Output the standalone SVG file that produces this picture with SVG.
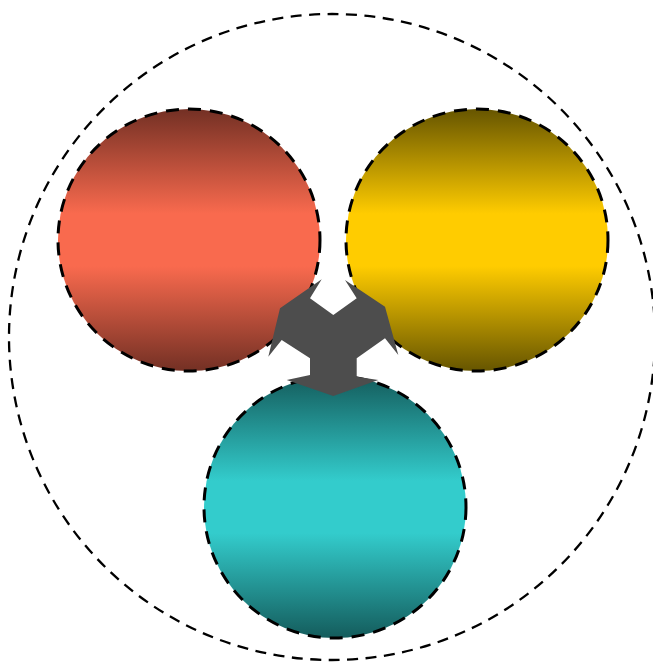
<svg xmlns="http://www.w3.org/2000/svg" width="653" height="664" viewBox="0 0 653 664">
<style>
.ring{fill:none;stroke:#000;stroke-width:2.3;stroke-dasharray:11 7.5}
.ball{stroke:#000;stroke-width:3;stroke-dasharray:13 9}
.hub{fill:#4d4d4d}
</style>
<defs>
<linearGradient id="gr" x1="0" y1="0" x2="0" y2="1">
<stop offset="0" stop-color="#733024"/>
<stop offset="0.4" stop-color="#f96a4e"/>
<stop offset="0.6" stop-color="#f96a4e"/>
<stop offset="1" stop-color="#733024"/>
</linearGradient>
<linearGradient id="gy" x1="0" y1="0" x2="0" y2="1">
<stop offset="0" stop-color="#665500"/>
<stop offset="0.4" stop-color="#ffcc00"/>
<stop offset="0.6" stop-color="#ffcc00"/>
<stop offset="1" stop-color="#665500"/>
</linearGradient>
<linearGradient id="gt" x1="0" y1="0" x2="0" y2="1">
<stop offset="0" stop-color="#145c5c"/>
<stop offset="0.4" stop-color="#33cccc"/>
<stop offset="0.6" stop-color="#33cccc"/>
<stop offset="1" stop-color="#145c5c"/>
</linearGradient>
</defs>
<g id="outer"><circle class="ring" cx="332" cy="337" r="323"/></g>
<g id="red"><circle class="ball" fill="url(#gr)" cx="189" cy="240" r="131"/></g>
<g id="yellow"><circle class="ball" fill="url(#gy)" cx="477" cy="240" r="131"/></g>
<g id="teal"><circle class="ball" fill="url(#gt)" cx="335" cy="507" r="131"/></g>
<g id="hub"><polygon class="hub" points="321.7,279.3 310,298.3 333.3,315 356.7,298.3 345,280 385,306.7 398.3,355 385,338.3 356.7,358.3 356.7,376.7 378.3,380 333.3,396 286.7,380 310,375 310,358.3 281.7,340 268.3,356.7 280,308.3"/></g>
<g id="connectors"></g>
</svg>
